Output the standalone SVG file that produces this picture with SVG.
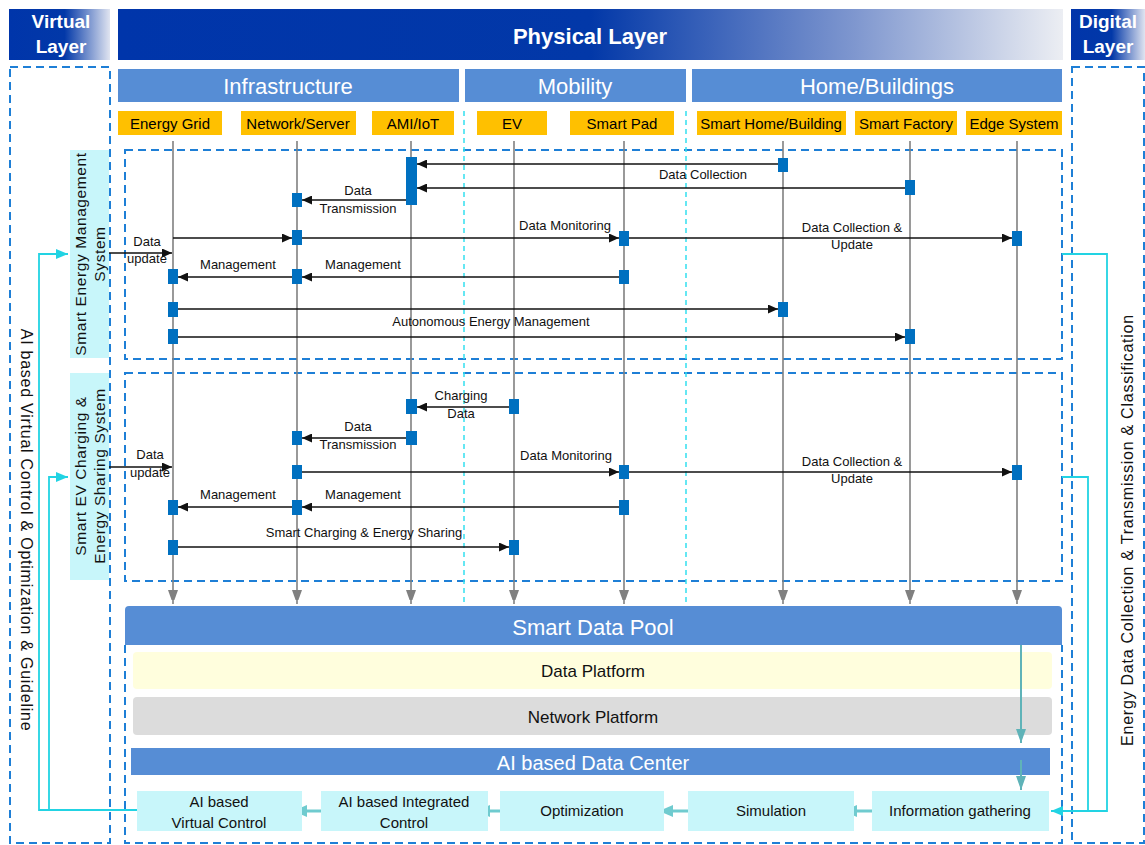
<svg xmlns="http://www.w3.org/2000/svg" width="1145" height="845" viewBox="0 0 1145 845">
<style>
text{font-family:"Liberation Sans",Arial,sans-serif;}
.hdr{fill:#fff;font-weight:bold;}
.sec{fill:#568dd5;}
.sect{fill:#fff;font-size:22px;text-anchor:middle;}
.org{fill:#ffc000;}
.orgt{fill:#000;font-size:15px;text-anchor:middle;}
.dash{fill:none;stroke:#1e7fd6;stroke-width:2;stroke-dasharray:8 5;}
.sep{stroke:#33dff0;stroke-width:1.5;stroke-dasharray:5 4;}
.life{stroke:#808080;stroke-width:1.6;marker-end:url(#garr);}
.act{fill:#0070c0;}
.msg{stroke:#111;stroke-width:1.5;fill:none;marker-end:url(#barr);}
.ml{font-size:13px;text-anchor:middle;fill:#111;}
.cyan{stroke:#22d3e3;stroke-width:1.8;fill:none;}
.cyb{fill:#c8f6fa;}
.bt{font-size:15px;text-anchor:middle;fill:#111;}
.teal{stroke:#6fcbcf;stroke-width:3;marker-end:url(#tarr);}
.vt{stroke:#5fb3b8;stroke-width:2;marker-end:url(#varr);}
.side{font-size:15.5px;letter-spacing:0.6px;text-anchor:middle;fill:#111;}
.vtxt{font-size:16px;letter-spacing:0.75px;text-anchor:middle;fill:#111;}
</style>
<defs>
<linearGradient id="gPhys" x1="0" y1="0" x2="1" y2="0">
<stop offset="0" stop-color="#0035aa"/>
<stop offset="0.5" stop-color="#0238a8"/>
<stop offset="0.78" stop-color="#7f97cf"/>
<stop offset="1" stop-color="#eceef3"/>
</linearGradient>
<linearGradient id="gSide" x1="0" y1="0" x2="1" y2="0">
<stop offset="0" stop-color="#0035aa"/>
<stop offset="0.55" stop-color="#0238a8"/>
<stop offset="1" stop-color="#e0e4f0"/>
</linearGradient>
<marker id="barr" markerUnits="userSpaceOnUse" markerWidth="10" markerHeight="9" refX="10" refY="4.5" orient="auto">
<path d="M0,0 L10,4.5 L0,9 z" fill="#111"/>
</marker>
<marker id="garr" markerUnits="userSpaceOnUse" markerWidth="10" markerHeight="14" refX="14" refY="5" orient="auto">
<path d="M0,0 L14,5 L0,10 z" fill="#808080"/>
</marker>
<marker id="carr" markerUnits="userSpaceOnUse" markerWidth="12" markerHeight="10" refX="12" refY="5" orient="auto">
<path d="M0,0 L12,5 L0,10 z" fill="#22d3e3"/>
</marker>
<marker id="tarr" markerUnits="userSpaceOnUse" markerWidth="14" markerHeight="12" refX="14" refY="6" orient="auto">
<path d="M0,0 L14,6 L0,12 z" fill="#6fcbcf"/>
</marker>
<marker id="varr" markerUnits="userSpaceOnUse" markerWidth="14" markerHeight="10" refX="14" refY="5" orient="auto">
<path d="M0,0 L14,5 L0,10 z" fill="#5fb3b8"/>
</marker>
</defs>
<rect width="1145" height="845" fill="#fff"/>

<g id="headers">
<rect x="9" y="9" width="101" height="51" fill="url(#gSide)"/>
<text class="hdr" x="61" y="28" font-size="19" text-anchor="middle">Virtual</text>
<text class="hdr" x="61" y="53" font-size="19" text-anchor="middle">Layer</text>
<rect x="118" y="9" width="945" height="51" fill="url(#gPhys)"/>
<text class="hdr" x="590" y="44" font-size="22" text-anchor="middle">Physical Layer</text>
<rect x="1071" y="9" width="74" height="51" fill="url(#gSide)"/>
<text class="hdr" x="1108" y="28" font-size="19" text-anchor="middle">Digital</text>
<text class="hdr" x="1108" y="53" font-size="19" text-anchor="middle">Layer</text>
</g>

<g id="sections">
<rect class="sec" x="118" y="69" width="341" height="33"/>
<text class="sect" x="288" y="94">Infrastructure</text>
<rect class="sec" x="465" y="69" width="221" height="33"/>
<text class="sect" x="575" y="94">Mobility</text>
<rect class="sec" x="692" y="69" width="370" height="33"/>
<text class="sect" x="877" y="94">Home/Buildings</text>
</g>

<g id="entities">
<rect class="org" x="118" y="111" width="104" height="24"/><text class="orgt" x="170" y="129">Energy Grid</text>
<rect class="org" x="241" y="111" width="115" height="24"/><text class="orgt" x="298" y="129">Network/Server</text>
<rect class="org" x="372" y="111" width="82" height="24"/><text class="orgt" x="413" y="129">AMI/IoT</text>
<rect class="org" x="477" y="111" width="70" height="24"/><text class="orgt" x="512" y="129">EV</text>
<rect class="org" x="570" y="111" width="104" height="24"/><text class="orgt" x="622" y="129">Smart Pad</text>
<rect class="org" x="697" y="111" width="149" height="24"/><text class="orgt" x="771" y="129">Smart Home/Building</text>
<rect class="org" x="855" y="111" width="102" height="24"/><text class="orgt" x="906" y="129">Smart Factory</text>
<rect class="org" x="966" y="111" width="96" height="24"/><text class="orgt" x="1014" y="129">Edge System</text>
</g>

<g id="frames">
<rect class="dash" x="10" y="67" width="100" height="776"/>
<rect class="dash" x="1072" y="67" width="72" height="776"/>
<rect class="dash" x="125" y="150" width="937" height="209"/>
<rect class="dash" x="125" y="373" width="937" height="208"/>
<path class="dash" d="M125,645 V843 H1062 V645"/>
<line class="sep" x1="464" y1="111" x2="464" y2="605"/>
<line class="sep" x1="686" y1="111" x2="686" y2="605"/>
</g>

<g id="lifelines">
<line class="life" x1="173" y1="141" x2="173" y2="604"/>
<line class="life" x1="297" y1="141" x2="297" y2="604"/>
<line class="life" x1="411" y1="141" x2="411" y2="604"/>
<line class="life" x1="514" y1="141" x2="514" y2="604"/>
<line class="life" x1="624" y1="141" x2="624" y2="604"/>
<line class="life" x1="783" y1="141" x2="783" y2="604"/>
<line class="life" x1="910" y1="141" x2="910" y2="604"/>
<line class="life" x1="1017" y1="141" x2="1017" y2="604"/>
</g>

<g id="sems-label">
<rect class="cyb" x="70" y="150" width="39" height="208"/>
<text class="side" transform="translate(86,254) rotate(-90)">Smart Energy Management</text>
<text class="side" transform="translate(105,254) rotate(-90)">System</text>
</g>
<g id="ev-label">
<rect class="cyb" x="70" y="373" width="39" height="207"/>
<text class="side" transform="translate(86,476) rotate(-90)">Smart EV Charging &amp;</text>
<text class="side" transform="translate(105,476) rotate(-90)">Energy Sharing System</text>
</g>

<g id="side-texts">
<text class="vtxt" transform="translate(21,530) rotate(90)">AI based Virtual Control &amp; Optimization &amp; Guideline</text>
<text class="vtxt" transform="translate(1133,530) rotate(-90)">Energy Data Collection &amp; Transmission &amp; Classification</text>
</g>

<g id="connectors">
<line class="msg" x1="778" y1="164" x2="417" y2="164"/>
<line class="msg" x1="905" y1="188" x2="417" y2="188"/>
<line class="msg" x1="406" y1="200" x2="302" y2="200"/>
<line class="msg" x1="109" y1="253" x2="172" y2="253"/>
<line class="msg" x1="173" y1="238" x2="292" y2="238"/>
<line class="msg" x1="302" y1="238" x2="619" y2="238"/>
<line class="msg" x1="629" y1="238" x2="1012" y2="238"/>
<line class="msg" x1="619" y1="277" x2="302" y2="277"/>
<line class="msg" x1="292" y1="277" x2="178" y2="277"/>
<line class="msg" x1="178" y1="309" x2="778" y2="309"/>
<line class="msg" x1="178" y1="337" x2="905" y2="337"/>
<line class="msg" x1="509" y1="407" x2="417" y2="407"/>
<line class="msg" x1="406" y1="438" x2="302" y2="438"/>
<line class="msg" x1="109" y1="467" x2="172" y2="467"/>
<line class="msg" x1="302" y1="472" x2="619" y2="472"/>
<line class="msg" x1="629" y1="472" x2="1012" y2="472"/>
<line class="msg" x1="619" y1="507" x2="302" y2="507"/>
<line class="msg" x1="292" y1="507" x2="178" y2="507"/>
<line class="msg" x1="178" y1="547" x2="509" y2="547"/>
<path class="cyan" d="M137,810 H39 V254 H68" marker-end="url(#carr)"/>
<path class="cyan" d="M137,810 H49 V477 H68" marker-end="url(#carr)"/>
<path class="cyan" d="M1062,254 H1107 V811 H1051" marker-end="url(#carr)"/>
<path class="cyan" d="M1062,477 H1088 V811"/>
<line class="teal" x1="877" y1="811" x2="843" y2="811"/>
<line class="teal" x1="692" y1="811" x2="659" y2="811"/>
<line class="teal" x1="509" y1="811" x2="476" y2="811"/>
<line class="teal" x1="325" y1="811" x2="293" y2="811"/>
</g>

<g id="activations">
<rect class="act" x="406" y="157" width="11" height="48"/>
<rect class="act" x="778" y="158" width="10" height="14"/>
<rect class="act" x="905" y="180" width="10" height="15"/>
<rect class="act" x="292" y="193" width="10" height="14"/>
<rect class="act" x="292" y="230" width="10" height="15"/>
<rect class="act" x="619" y="231" width="10" height="15"/>
<rect class="act" x="1012" y="231" width="10" height="15"/>
<rect class="act" x="168" y="269" width="10" height="15"/>
<rect class="act" x="292" y="269" width="10" height="15"/>
<rect class="act" x="619" y="270" width="10" height="14"/>
<rect class="act" x="168" y="302" width="10" height="15"/>
<rect class="act" x="778" y="302" width="10" height="15"/>
<rect class="act" x="168" y="329" width="10" height="15"/>
<rect class="act" x="905" y="329" width="10" height="15"/>
<rect class="act" x="406" y="399" width="11" height="15"/>
<rect class="act" x="509" y="399" width="10" height="15"/>
<rect class="act" x="406" y="431" width="11" height="14"/>
<rect class="act" x="292" y="431" width="10" height="14"/>
<rect class="act" x="292" y="465" width="10" height="14"/>
<rect class="act" x="619" y="465" width="10" height="14"/>
<rect class="act" x="1012" y="465" width="10" height="15"/>
<rect class="act" x="168" y="500" width="10" height="15"/>
<rect class="act" x="292" y="500" width="10" height="15"/>
<rect class="act" x="619" y="500" width="10" height="15"/>
<rect class="act" x="168" y="540" width="10" height="15"/>
<rect class="act" x="509" y="540" width="10" height="15"/>
</g>

<g id="message-labels">
<text class="ml" x="703" y="179">Data Collection</text>
<text class="ml" x="358" y="195">Data</text>
<text class="ml" x="358" y="213">Transmission</text>
<text class="ml" x="147" y="246">Data</text>
<text class="ml" x="147" y="263">update</text>
<text class="ml" x="565" y="230">Data Monitoring</text>
<text class="ml" x="852" y="232">Data Collection &amp;</text>
<text class="ml" x="852" y="249">Update</text>
<text class="ml" x="238" y="269">Management</text>
<text class="ml" x="363" y="269">Management</text>
<text class="ml" x="491" y="326">Autonomous Energy Management</text>
<text class="ml" x="461" y="400">Charging</text>
<text class="ml" x="461" y="418">Data</text>
<text class="ml" x="358" y="431">Data</text>
<text class="ml" x="358" y="449">Transmission</text>
<text class="ml" x="150" y="459">Data</text>
<text class="ml" x="150" y="477">update</text>
<text class="ml" x="566" y="460">Data Monitoring</text>
<text class="ml" x="852" y="466">Data Collection &amp;</text>
<text class="ml" x="852" y="483">Update</text>
<text class="ml" x="238" y="499">Management</text>
<text class="ml" x="363" y="499">Management</text>
<text class="ml" x="364" y="537">Smart Charging &amp; Energy Sharing</text>
</g>

<g id="smart-data-pool">
<path d="M125,645 V610 Q125,606 129,606 H1058 Q1062,606 1062,610 V645 z" fill="#568dd5"/>
<text x="593" y="635" font-size="22" fill="#fff" text-anchor="middle">Smart Data Pool</text>
</g>
<g id="data-platform">
<rect x="133" y="652" width="919" height="37" rx="4" fill="#fffedd"/>
<text x="593" y="677" font-size="17" fill="#111" text-anchor="middle">Data Platform</text>
</g>
<g id="network-platform">
<rect x="133" y="697" width="919" height="38" rx="4" fill="#dcdcdc"/>
<text x="593" y="723" font-size="17" fill="#111" text-anchor="middle">Network Platform</text>
</g>
<g id="ai-data-center">
<rect x="131" y="748" width="919" height="27" fill="#568dd5"/>
<text x="593" y="770" font-size="20" fill="#fff" text-anchor="middle">AI based Data Center</text>
</g>
<g id="pool-arrows">
<line class="vt" x1="1021" y1="645" x2="1021" y2="743"/>
<line class="vt" x1="1021" y1="760" x2="1021" y2="790"/>
</g>

<g id="ai-virtual-control">
<rect class="cyb" x="137" y="791" width="165" height="40"/>
<text class="bt" x="219" y="807">AI based</text>
<text class="bt" x="219" y="828">Virtual Control</text>
</g>
<g id="ai-integrated-control">
<rect class="cyb" x="321" y="791" width="167" height="40"/>
<text class="bt" x="404" y="807">AI based Integrated</text>
<text class="bt" x="404" y="828">Control</text>
</g>
<g id="optimization">
<rect class="cyb" x="500" y="791" width="164" height="40"/>
<text class="bt" x="582" y="816">Optimization</text>
</g>
<g id="simulation">
<rect class="cyb" x="688" y="791" width="166" height="40"/>
<text class="bt" x="771" y="816">Simulation</text>
</g>
<g id="information-gathering">
<rect class="cyb" x="872" y="791" width="177" height="40"/>
<text class="bt" x="960" y="816">Information gathering</text>
</g>
</svg>
